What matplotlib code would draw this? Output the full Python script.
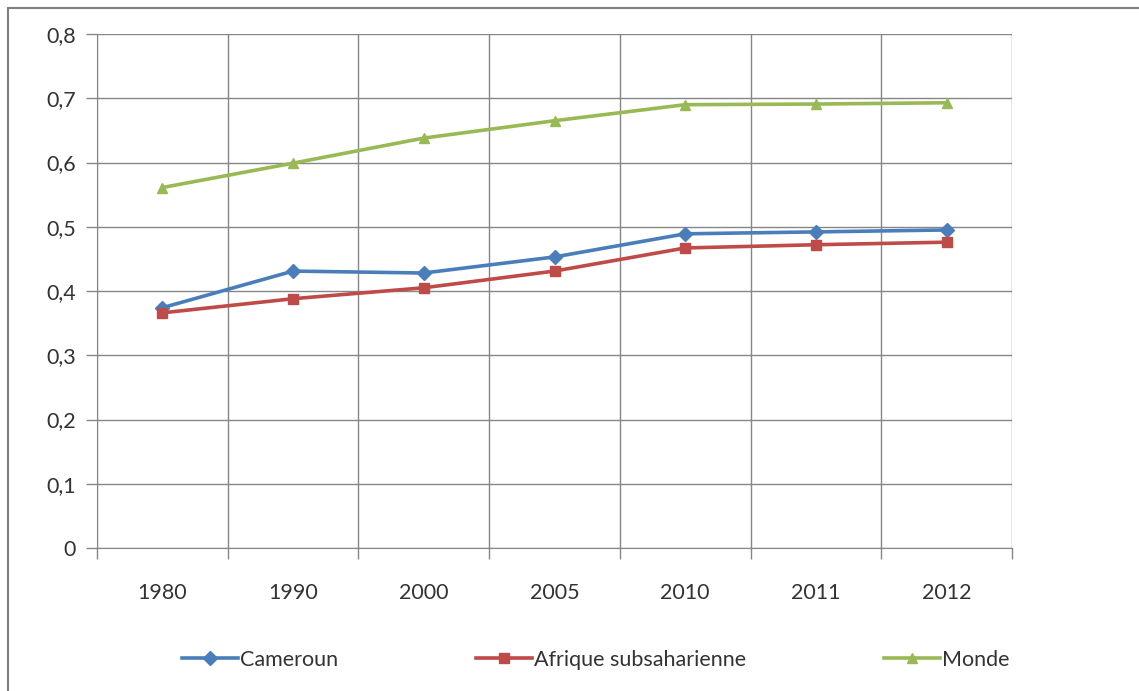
import matplotlib.pyplot as plt
from matplotlib.patches import Rectangle
from matplotlib.ticker import FixedLocator

years = ["1980", "1990", "2000", "2005", "2010", "2011", "2012"]
cameroun = [0.374, 0.431, 0.428, 0.453, 0.489, 0.492, 0.495]
afrique = [0.366, 0.388, 0.405, 0.431, 0.467, 0.472, 0.476]
monde = [0.561, 0.599, 0.638, 0.665, 0.690, 0.691, 0.693]
yticks = [0, 0.1, 0.2, 0.3, 0.4, 0.5, 0.6, 0.7, 0.8]

plt.rcParams['font.family'] = ['Lato', 'DejaVu Sans']

fig = plt.figure(figsize=(11.39, 6.91), dpi=100)
ax = fig.add_axes([97/1139, 1-548/691, 915/1139, 514/691])

x = list(range(len(years)))
ax.plot(x, cameroun, color="#4A7EBB", lw=2.6, marker="D", ms=7, label="Cameroun")
ax.plot(x, afrique, color="#BE4B48", lw=2.6, marker="s", ms=7, label="Afrique subsaharienne")
ax.plot(x, monde, color="#98B954", lw=2.6, marker="^", ms=7, label="Monde")

ax.set_xlim(-0.5, len(years) - 0.5)
ax.set_ylim(0, 0.8)
ax.set_yticks(yticks)
ax.set_yticklabels(["0" if v == 0 else ("%.1f" % v).replace(".", ",") for v in yticks])
ax.set_xticks(x)
ax.set_xticklabels(years)
ax.xaxis.set_minor_locator(FixedLocator([i - 0.5 for i in range(len(years) + 1)]))

ax.tick_params(axis="x", which="major", length=0, pad=25, labelsize=15.5, colors="#333333")
ax.tick_params(axis="x", which="minor", length=8, color="#868686", width=1)
ax.tick_params(axis="y", length=8, color="#868686", width=1, pad=7, labelsize=15.5, labelcolor="#333333")

ax.grid(True, axis="y", color="#868686", lw=1)
ax.grid(True, axis="x", which="minor", color="#868686", lw=1)
ax.set_axisbelow(True)
for s in ["top", "right"]:
    ax.spines[s].set_visible(False)
for s in ["left", "bottom"]:
    ax.spines[s].set_color("#868686")

fig.legend(loc="center", bbox_to_anchor=(0.523, 1-660/691), ncol=3, frameon=False,
           fontsize=15.5, columnspacing=6.4, handlelength=2.6, handletextpad=0.1,
           labelcolor="#333333")

# outer chart frame
fig.patches.append(Rectangle((8/1139, -0.1), 1.2, 1-8/691+0.1, transform=fig.transFigure,
                             fill=False, edgecolor="#7f7f7f", lw=1.5))

fig.savefig("out.png", dpi=100)
